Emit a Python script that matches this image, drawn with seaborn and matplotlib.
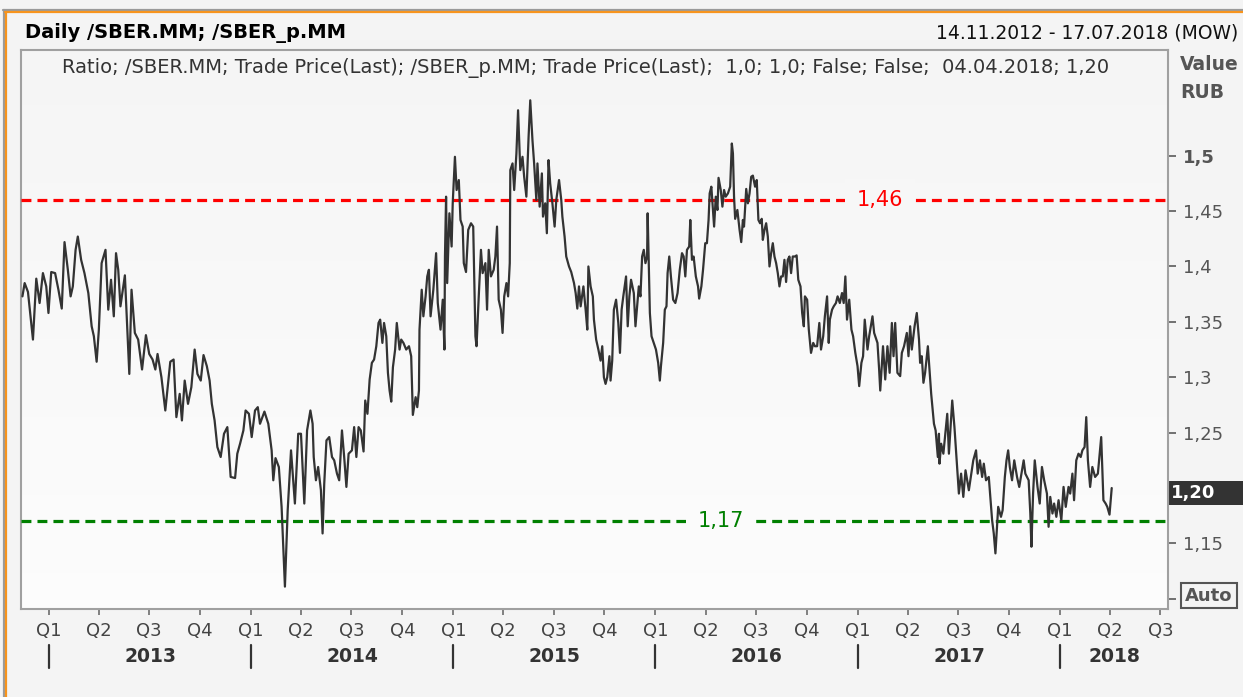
import numpy as np
import pandas as pd
import matplotlib
matplotlib.use("Agg")
import matplotlib.pyplot as plt
import seaborn as sns
from matplotlib.lines import Line2D
from matplotlib.patches import Rectangle
from matplotlib.transforms import blended_transform_factory

# ---------------- data (days after 14.11.2012, ratio value) ----------------
START = "2012-11-14"
days_a = [0, 4, 10, 19, 25, 31, 37, 43, 47, 52, 59, 65, 71, 76, 82, 87, 91, 96, 100, 106,
          112, 119, 125, 129, 134, 138, 143, 150, 155, 160, 165, 169, 173, 177, 185, 193, 197, 203, 209, 216,
          223, 229, 235, 240, 244, 251, 258, 263, 267, 273, 278, 284, 288, 293, 299, 305, 311, 316, 322, 327,
          333, 338, 342, 347, 352, 358, 364, 370, 376, 384, 388, 393, 399, 403, 409, 414, 420, 425, 429, 437,
          444, 450, 453, 457, 463, 468, 474, 479, 485, 492, 498, 503, 509, 514]
vals_a = [1.373, 1.385, 1.377, 1.334, 1.389, 1.367, 1.394, 1.382, 1.358, 1.395,
          1.394, 1.379, 1.362, 1.422, 1.397, 1.373, 1.382, 1.415, 1.427, 1.406,
          1.394, 1.376, 1.346, 1.337, 1.314, 1.343, 1.403, 1.415, 1.361, 1.388,
          1.355, 1.412, 1.397, 1.364, 1.392, 1.303, 1.379, 1.340, 1.334, 1.307,
          1.338, 1.321, 1.316, 1.307, 1.321, 1.300, 1.270, 1.294, 1.314, 1.316,
          1.264, 1.285, 1.261, 1.297, 1.276, 1.291, 1.325, 1.303, 1.297, 1.320,
          1.310, 1.297, 1.276, 1.261, 1.237, 1.228, 1.249, 1.255, 1.210, 1.209,
          1.231, 1.240, 1.252, 1.270, 1.267, 1.246, 1.270, 1.273, 1.258, 1.269,
          1.258, 1.234, 1.207, 1.227, 1.219, 1.183, 1.111, 1.180, 1.234, 1.186,
          1.249, 1.249, 1.186, 1.252]

days_b = [516, 520, 524, 526, 530, 534, 539, 542, 545, 549, 554, 559, 563, 568, 572, 577, 581, 585, 589, 595,
          599, 603, 607, 611, 616, 619, 623, 627, 631, 635, 639, 643, 646, 650, 653, 657, 660, 663, 666, 669,
          673, 676, 681, 684, 688, 693, 698, 702, 705, 710, 713, 716, 717, 721, 724, 728, 731, 734, 737, 742,
          747, 750, 755, 759, 762, 763, 765, 767, 771, 775, 777, 781, 784, 788, 791, 795, 797, 801, 805, 810,
          814, 818, 820, 824, 828, 831, 836, 839, 842, 846, 851, 854, 857, 860, 864, 867, 870, 874, 877, 880,
          881, 885, 888, 892, 895, 899, 903, 906, 910, 914, 917, 921, 924, 928, 930, 934, 938, 940, 944, 947,
          950, 953, 957, 961, 964, 969, 973, 975, 979, 982, 987, 991, 996, 999, 1002, 1005]
vals_b = [1.258, 1.270, 1.258, 1.228, 1.207, 1.219, 1.198, 1.159, 1.204, 1.243,
          1.246, 1.228, 1.225, 1.213, 1.207, 1.252, 1.228, 1.201, 1.231, 1.234,
          1.255, 1.228, 1.255, 1.252, 1.233, 1.279, 1.267, 1.298, 1.313, 1.316,
          1.328, 1.349, 1.352, 1.331, 1.349, 1.337, 1.304, 1.288, 1.278, 1.309,
          1.325, 1.349, 1.325, 1.334, 1.331, 1.325, 1.328, 1.319, 1.266, 1.282,
          1.273, 1.288, 1.343, 1.379, 1.355, 1.373, 1.391, 1.397, 1.355, 1.379,
          1.412, 1.367, 1.343, 1.370, 1.325, 1.409, 1.463, 1.385, 1.448, 1.418,
          1.457, 1.499, 1.469, 1.478, 1.442, 1.436, 1.403, 1.395, 1.433, 1.439,
          1.436, 1.337, 1.328, 1.373, 1.415, 1.394, 1.403, 1.361, 1.415, 1.391,
          1.397, 1.409, 1.436, 1.370, 1.361, 1.340, 1.373, 1.385, 1.373, 1.403,
          1.487, 1.493, 1.469, 1.502, 1.541, 1.487, 1.499, 1.481, 1.463, 1.517,
          1.550, 1.514, 1.493, 1.460, 1.493, 1.454, 1.484, 1.445, 1.457, 1.430,
          1.496, 1.475, 1.457, 1.436, 1.460, 1.478, 1.460, 1.445, 1.427, 1.409,
          1.400, 1.395, 1.385, 1.376, 1.362, 1.382]

days_c = [1008, 1013, 1017, 1020, 1022, 1026, 1030, 1032, 1036, 1040, 1044, 1047, 1050, 1053, 1056, 1060, 1062, 1065, 1068, 1072,
          1076, 1079, 1082, 1085, 1090, 1093, 1096, 1099, 1104, 1107, 1110, 1113, 1116, 1119, 1122, 1125, 1128, 1129, 1133, 1136,
          1140, 1144, 1148, 1151, 1153, 1157, 1160, 1163, 1165, 1168, 1171, 1175, 1179, 1183, 1187, 1191, 1194, 1197, 1200, 1204,
          1206, 1209, 1212, 1216, 1220, 1222, 1226, 1229, 1233, 1236, 1239, 1241, 1244, 1246, 1249, 1252, 1255, 1257, 1261, 1264,
          1267, 1270, 1274, 1278, 1281, 1283, 1285, 1287, 1291, 1295, 1298, 1301, 1303, 1307, 1310, 1313, 1316, 1319, 1323, 1326,
          1329, 1332, 1335, 1337, 1340, 1343, 1346, 1349, 1352, 1355, 1358, 1361, 1364, 1367, 1370, 1373, 1376, 1379, 1382, 1385,
          1388, 1391, 1395, 1398, 1401, 1405, 1408, 1411, 1413, 1417, 1420, 1424, 1428, 1431, 1435, 1439, 1442, 1446, 1449, 1453,
          1456, 1458, 1462, 1465, 1469, 1472, 1476, 1480, 1483, 1486, 1489, 1493, 1497, 1500, 1504, 1508, 1511]
vals_c = [1.364, 1.382, 1.361, 1.343, 1.400, 1.382, 1.373, 1.352, 1.334, 1.325,
          1.315, 1.328, 1.300, 1.294, 1.300, 1.319, 1.297, 1.315, 1.361, 1.370,
          1.349, 1.322, 1.361, 1.373, 1.391, 1.346, 1.373, 1.388, 1.376, 1.346,
          1.364, 1.382, 1.373, 1.409, 1.415, 1.403, 1.409, 1.448, 1.358, 1.337,
          1.331, 1.325, 1.313, 1.297, 1.310, 1.331, 1.361, 1.364, 1.394, 1.409,
          1.391, 1.370, 1.367, 1.376, 1.397, 1.412, 1.409, 1.391, 1.415, 1.418,
          1.442, 1.406, 1.409, 1.391, 1.382, 1.371, 1.382, 1.397, 1.421, 1.421,
          1.442, 1.466, 1.472, 1.457, 1.436, 1.463, 1.451, 1.480, 1.469, 1.454,
          1.469, 1.463, 1.466, 1.472, 1.511, 1.502, 1.463, 1.443, 1.451, 1.433,
          1.422, 1.442, 1.436, 1.470, 1.457, 1.466, 1.481, 1.482, 1.472, 1.478,
          1.442, 1.439, 1.443, 1.424, 1.433, 1.439, 1.427, 1.400, 1.412, 1.421,
          1.409, 1.403, 1.394, 1.382, 1.391, 1.391, 1.406, 1.386, 1.406, 1.409,
          1.394, 1.409, 1.409, 1.410, 1.388, 1.382, 1.358, 1.346, 1.373, 1.370,
          1.343, 1.322, 1.331, 1.328, 1.328, 1.349, 1.325, 1.337, 1.355, 1.373,
          1.331, 1.352, 1.361, 1.364, 1.367, 1.373, 1.367, 1.376, 1.367, 1.391,
          1.352, 1.370, 1.343, 1.337, 1.322, 1.310, 1.292]

days_d = [1515, 1518, 1521, 1526, 1529, 1535, 1538, 1544, 1547, 1549, 1554, 1558, 1562, 1566, 1570, 1573, 1576, 1580, 1585, 1588,
          1592, 1597, 1600, 1603, 1606, 1611, 1615, 1619, 1621, 1624, 1627, 1630, 1635, 1638, 1641, 1646, 1649, 1653, 1655, 1656,
          1659, 1663, 1667, 1670, 1673, 1679, 1683, 1687, 1691, 1695, 1699, 1703, 1709, 1717, 1722, 1725, 1729, 1733, 1736, 1740,
          1745, 1751, 1754, 1757, 1762, 1767, 1770, 1774, 1777, 1780, 1783, 1787, 1791, 1796, 1800, 1808, 1811, 1817, 1820, 1822,
          1825, 1828, 1833, 1837, 1841, 1845, 1850, 1853, 1856, 1860, 1863, 1867, 1871, 1876, 1880, 1884, 1889, 1892, 1896, 1899,
          1903, 1907, 1911, 1914, 1918, 1921, 1924, 1928, 1932, 1937, 1942, 1948, 1952, 1956, 1959, 1963, 1967]
vals_d = [1.313, 1.319, 1.352, 1.325, 1.337, 1.355, 1.340, 1.331, 1.307, 1.288,
          1.328, 1.298, 1.328, 1.304, 1.349, 1.319, 1.349, 1.304, 1.301, 1.322,
          1.328, 1.340, 1.319, 1.346, 1.325, 1.346, 1.358, 1.334, 1.313, 1.319,
          1.295, 1.304, 1.328, 1.307, 1.285, 1.258, 1.252, 1.228, 1.249, 1.222,
          1.240, 1.231, 1.252, 1.267, 1.231, 1.279, 1.255, 1.225, 1.195, 1.213,
          1.192, 1.216, 1.198, 1.225, 1.234, 1.213, 1.225, 1.210, 1.222, 1.207,
          1.210, 1.171, 1.159, 1.141, 1.183, 1.174, 1.180, 1.210, 1.225, 1.234,
          1.219, 1.207, 1.225, 1.210, 1.201, 1.225, 1.213, 1.207, 1.177, 1.147,
          1.195, 1.225, 1.201, 1.186, 1.219, 1.207, 1.195, 1.165, 1.192, 1.177,
          1.186, 1.174, 1.189, 1.171, 1.201, 1.183, 1.201, 1.195, 1.213, 1.189,
          1.225, 1.231, 1.228, 1.234, 1.237, 1.264, 1.225, 1.201, 1.219, 1.210,
          1.213, 1.246, 1.189, 1.186, 1.183, 1.176, 1.200]

upper_level = 1.46
lower_level = 1.17
last_value = 1.20
ytick_vals = [1.15, 1.25, 1.30, 1.35, 1.40, 1.45, 1.50]
ytick_text = ["1,15", "1,25", "1,3", "1,35", "1,4", "1,45", "1,5"]
quarter_labels = ["Q1", "Q2", "Q3", "Q4"]
years = [2013, 2014, 2015, 2016, 2017, 2018]
title = "Daily /SBER.MM; /SBER_p.MM"
period = "14.11.2012 - 17.07.2018 (MOW)"
subtitle = ("Ratio; /SBER.MM; Trade Price(Last); /SBER_p.MM; Trade Price(Last);  "
            "1,0; 1,0; False; False;  04.04.2018; 1,20")
x_start, x_end = pd.Timestamp("2012-11-11 10:00"), pd.Timestamp("2018-07-14 02:00")
y_lo, y_hi = 1.0908, 1.5954

# ---------------- figure ----------------
sns.set_theme(style="white")
plt.rcParams["font.family"] = ["DejaVu Sans"]

W, H = 1243, 697
BG = "#f4f4f4"
fig = plt.figure(figsize=(W / 100, H / 100), dpi=100, facecolor=BG)


def fx(px):
    return px / W


def fy(py):
    return 1 - py / H


ax_l, ax_r, ax_t, ax_b = 21, 1167.7, 50, 609
pos = [fx(ax_l), fy(ax_b), fx(ax_r) - fx(ax_l), fy(ax_t) - fy(ax_b)]

# gradient background of the plotting area
bg_ax = fig.add_axes(pos, zorder=0)
top_c = np.array([0.962, 0.962, 0.962])
bot_c = np.array([0.990, 0.990, 0.990])
g = np.linspace(0, 1, 256)[:, None, None]
bg_ax.imshow(top_c + (bot_c - top_c) * g, aspect="auto", extent=[0, 1, 0, 1], origin="upper")
bg_ax.set_axis_off()


def bg_at(yv):
    f = (y_hi - yv) / (y_hi - y_lo)
    c = top_c + (bot_c - top_c) * f
    return tuple(c)


ax = fig.add_axes(pos, zorder=1)
ax.patch.set_alpha(0)

days = days_a + days_b + days_c + days_d
vals = vals_a + vals_b + vals_c + vals_d
df = pd.DataFrame({"date": pd.Timestamp(START) + pd.to_timedelta(days, unit="D"),
                   "ratio": vals})

sns.lineplot(data=df, x="date", y="ratio", ax=ax, color="#333333", linewidth=1.6, zorder=4)

for lvl, col in [(upper_level, "#ff0000"), (lower_level, "#008000")]:
    ax.axhline(lvl, color=col, lw=2.3, dashes=(3.1, 1.9), zorder=3)

bt = blended_transform_factory(ax.transAxes, ax.transData)
ax.text(0.749, upper_level, "1,46", transform=bt, ha="center", va="center", fontsize=15,
        color="#ff0000", zorder=3.5,
        bbox=dict(boxstyle="square,pad=0.55", fc=bg_at(upper_level), ec="none"))
ax.text(0.6105, lower_level, "1,17", transform=bt, ha="center", va="center", fontsize=15,
        color="#008000", zorder=3.5,
        bbox=dict(boxstyle="square,pad=0.55", fc=bg_at(lower_level), ec="none"))

ax.set_xlim(x_start, x_end)
ax.set_ylim(y_lo, y_hi)
ax.set_xlabel("")
ax.set_ylabel("")

# y axis on the right
ax.yaxis.tick_right()
ax.set_yticks([1.10] + ytick_vals)
ax.set_yticklabels([""] + ytick_text)
ax.tick_params(axis="y", which="both", direction="out", length=6, width=1.3, colors="#666666",
               pad=5, labelsize=13, labelcolor="#555555", right=True, left=False)
for lab in ax.get_yticklabels():
    if lab.get_text() == "1,5":
        lab.set_fontweight("bold")

# x axis quarters
qdates = pd.date_range("2013-01-01", "2018-07-01", freq="QS")
ax.set_xticks(qdates)
ax.set_xticklabels([quarter_labels[(d.month - 1) // 3] for d in qdates])
ax.tick_params(axis="x", direction="out", length=4, width=1.3, colors="#777777", pad=5,
               labelsize=13, labelcolor="#444444", bottom=True)

for s in ["left", "right", "top", "bottom"]:
    ax.spines[s].set_visible(True)
    ax.spines[s].set_color("#a0a0a0")
    ax.spines[s].set_linewidth(1.5)

# year labels and separators
xt = blended_transform_factory(ax.transData, ax.transAxes)
h_px = ax_b - ax_t
for yr in years:
    y0 = pd.Timestamp(f"{yr}-01-01")
    y1 = min(pd.Timestamp(f"{yr + 1}-01-01"), x_end)
    mid = y0 + (y1 - y0) / 2
    ax.text(mid, -(657 - ax_b) / h_px, str(yr), transform=xt, ha="center", va="center",
            fontsize=13.5, fontweight="bold", color="#333333", clip_on=False)
    ax.add_line(Line2D([y0, y0], [-(645 - ax_b) / h_px, -(668 - ax_b) / h_px], transform=xt,
                       color="#333333", lw=1.6, clip_on=False))

# header texts
fig.text(fx(25), fy(33), title, fontsize=14, fontweight="bold", color="#000000", va="center")
fig.text(fx(1238), fy(33), period, fontsize=13.5, color="#111111", va="center", ha="right")
fig.text(fx(62), fy(68), subtitle, fontsize=14.05, color="#333333", va="center")
fig.text(fx(1180), fy(65), "Value", fontsize=13.5, fontweight="bold", color="#555555", va="center")
fig.text(fx(1180), fy(92), "RUB", fontsize=13.5, fontweight="bold", color="#555555", va="center")

# last value badge
fig.add_artist(Rectangle((fx(1168), fy(505)), fx(1243) - fx(1168), fy(481) - fy(505),
                         transform=fig.transFigure, fc="#333333", ec="none"))
fig.text(fx(1171), fy(493), f"{last_value:.2f}".replace(".", ","), fontsize=13,
         fontweight="bold", color="white", va="center")

# "Auto" box
fig.add_artist(Rectangle((fx(1181), fy(608)), fx(1237) - fx(1181), fy(583) - fy(608),
                         transform=fig.transFigure, fc="none", ec="#555555", lw=1.5))
fig.text(fx(1209), fy(596), "Auto", fontsize=13, fontweight="bold", color="#555555",
         va="center", ha="center")

# outer frame lines
fig.add_artist(Line2D([fx(3), fx(W)], [fy(10), fy(10)], transform=fig.transFigure, color="#9a9a9a", lw=1.6))
fig.add_artist(Line2D([fx(4), fx(4)], [fy(10), fy(H)], transform=fig.transFigure, color="#9a9a9a", lw=1.6))
fig.add_artist(Line2D([fx(5), fx(W)], [fy(12.3), fy(12.3)], transform=fig.transFigure, color="#f7941d", lw=1.6))
fig.add_artist(Line2D([fx(6.3), fx(6.3)], [fy(12), fy(H)], transform=fig.transFigure, color="#f7941d", lw=1.6))

fig.savefig("out.png", dpi=100, facecolor=BG)
